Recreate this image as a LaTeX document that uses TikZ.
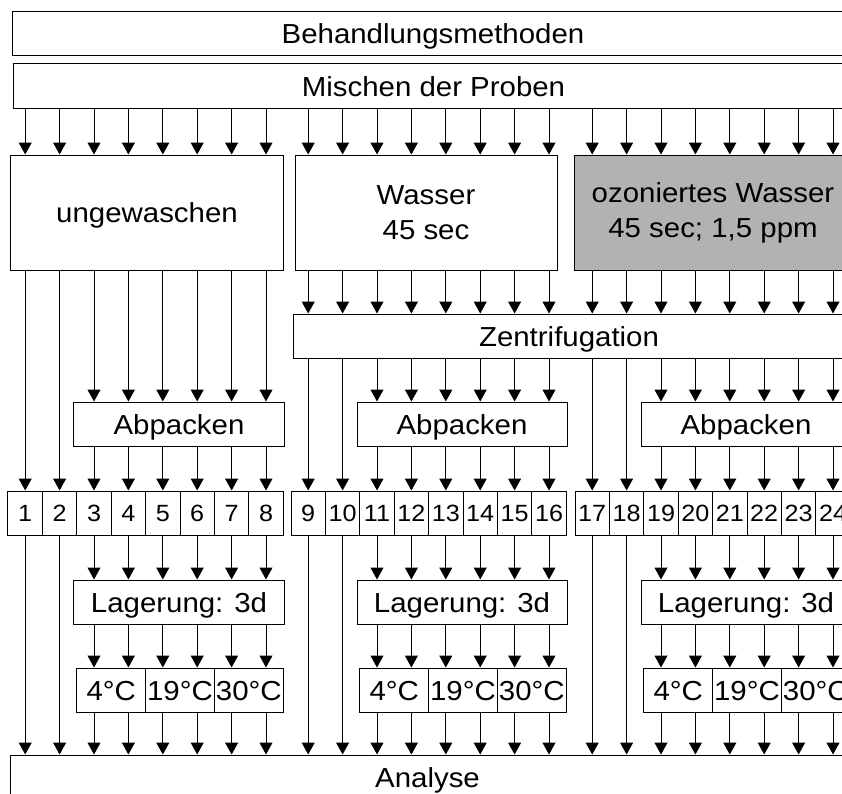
\documentclass[tikz,border=0pt]{standalone}
\usepackage{fontspec}
\setmainfont{Liberation Sans}[FakeStretch=1.07]
\usepackage{tikz}
\usetikzlibrary{arrows.meta,calc,positioning}
\definecolor{ozgray}{RGB}{178,178,178}
\tikzset{
  box/.style={draw,line width=1bp,inner sep=0pt,align=center,font=\fontsize{27.5bp}{35bp}\selectfont},
  bar/.style={box,text height=20bp,text depth=0pt},
  cell/.style={draw,line width=1bp,inner sep=0pt,minimum width=34.4bp,minimum height=44bp,text height=17bp,text depth=0pt,font=\fontsize{23.5bp}{26bp}\selectfont},
  arr/.style={-{Triangle[width=13bp,length=12bp]},line width=1bp}
}

\begin{document}
\begin{tikzpicture}[x=1bp,y=-1bp]
\useasboundingbox (0,0) rectangle (842,794);
\clip (0,0) rectangle (842,794);
\node[bar,minimum width=840bp,minimum height=44bp] (Beh) at (433,34) {Behandlungsmethoden};
\node[bar,minimum width=839bp,minimum height=44bp] (Mix) at (433.5,86) {Mischen der Proben};
\node[bar,minimum width=272bp,minimum height=115bp] (U) at (147,212.5) {ungewaschen};
\node[box,minimum width=262bp,minimum height=115bp] (W) at (426,212.5) {Wasser\\45 sec};
\node[box,fill=ozgray,minimum width=278bp,minimum height=115bp] (O) at (713,212.5) {ozoniertes Wasser\\45 sec; 1,5 ppm};
\node[bar,minimum width=552bp,minimum height=44bp] (Z) at (569,336) {Zentrifugation};
\node[bar,minimum width=833bp,minimum height=44bp] (An) at (427.5,777) {Analyse};
%\node (Lab) at (427.5,790) {};
\foreach \g/\x/\lev/\src in {0/8/U/U,1/291/W/Z,2/575/O/Z} {
  % Probennummern
  \foreach \k in {1,...,8} {
    \pgfmathtruncatemacro\n{8*\g+\k}
    \node[cell] (n\n) at ({\x+(\k-0.5)*34.4},513) {\n};
  }
  \node[bar,minimum width=210bp,minimum height=44bp] (P\g) at ({\x+5*34.4-1},424) {Abpacken};
  \node[bar,minimum width=210bp,minimum height=44bp] (L\g) at ({\x+5*34.4-1},602) {Lagerung: 3d};
  \node[bar,minimum width=68.8bp,minimum height=44bp] (T\g1) at ({\x+3*34.4},690) {4°C};
  \node[bar,minimum width=68.8bp,minimum height=44bp] (T\g2) at ({\x+5*34.4},690) {19°C};
  \node[bar,minimum width=68.8bp,minimum height=44bp] (T\g3) at ({\x+7*34.4},690) {30°C};
  % Pfeile
  \foreach \k in {1,...,8} {
    \pgfmathtruncatemacro\n{8*\g+\k}
    \path[arr] (Mix.south -| n\n) edge (\lev.north -| n\n);
    \ifnum\g>0 \path[arr] (\lev.south -| n\n) edge (Z.north -| n\n); \fi
  }
  \foreach \k in {1,2} {
    \pgfmathtruncatemacro\n{8*\g+\k}
    \path[arr] (\src.south -| n\n) edge (n\n.north)
      (n\n.south) edge (An.north -| n\n);
  }
  \foreach \k in {3,...,8} {
    \pgfmathtruncatemacro\n{8*\g+\k}
    \pgfmathtruncatemacro\j{int((\k-1)/2)}
    \path[arr] (\src.south -| n\n) edge (P\g.north -| n\n)
      (P\g.south -| n\n) edge (n\n.north)
      (n\n.south) edge (L\g.north -| n\n)
      (L\g.south -| n\n) edge (T\g\j.north -| n\n)
      (T\g\j.south -| n\n) edge (An.north -| n\n);
  }
}
\end{tikzpicture}
\end{document}
